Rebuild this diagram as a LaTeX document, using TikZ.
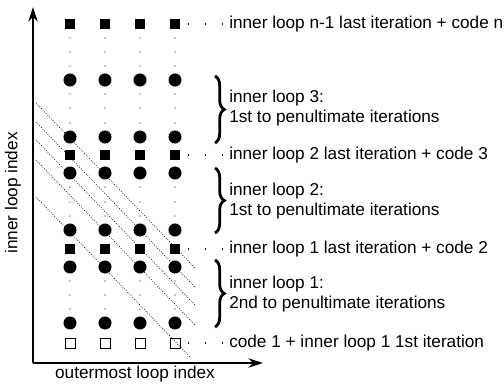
\documentclass[tikz,border=0pt]{standalone}
\usepackage{fontspec}
\setmainfont{Liberation Sans}
\usetikzlibrary{arrows.meta,decorations.pathreplacing}

\tikzset{
  axis/.style={line width=1pt,-{Stealth[length=11pt,width=7pt]}},
  fullsq/.style={fill=black,minimum size=8pt,inner sep=0},
  opensq/.style={draw,line width=0.6pt,minimum size=7.6pt,inner sep=0},
  iter/.style={circle,fill=black,minimum size=9.8pt,inner sep=0},
  gap/.style={circle,fill=black,minimum size=1pt,inner sep=0},
  lbl/.style={anchor=west,inner sep=0,align=left},
  leader/.style={line width=0.9pt,dash pattern=on 0.75pt off 12pt,dash phase=7pt},
  wave/.style={line width=0.5pt,dash pattern=on 0.6pt off 1.2pt},
  blockbrace/.style={decorate,decoration={brace,amplitude=7pt},line width=2.1pt}
}

\begin{document}
\begin{tikzpicture}[x=0.75pt,y=-0.75pt,font=\fontsize{12.9}{15}\selectfont]
    \useasboundingbox (0,0) rectangle (504,385);
    \coordinate (o) at (33,363);
    \coordinate (xtip) at (263,363);
    \coordinate (ytip) at (33,7);
    \draw[axis] (o) -- (xtip);
    \draw[axis] (o) -- (ytip);
    \node[rotate=90] (ylab) at (13,193) {inner loop index};
    \node (xlab) at (135,374) {outermost loop index};

    \foreach \c/\x in {1/70,2/105,3/140,4/175}{
      \node[fullsq] (sqn\c) at (\x,24) {};
      \node[fullsq] (sqb\c) at (\x,155) {};
      \node[fullsq] (sqa\c) at (\x,249) {};
      \node[opensq] (sqz\c) at (\x,343) {};
      \foreach \y in {80,137,173,230,267,323}
        \node[iter] (it\c-\y) at (\x,\y) {};
      \foreach \y in {38,52,66,94,108,123,187,202,216,281,295,309}
        \node[gap] (g\c-\y) at (\x,\y) {};
    }

    \draw[wave] (36,103) -- (195,268);
    \draw[wave] (36,122) -- (195,287);
    \draw[wave] (36,140) -- (195,305);
    \draw[wave] (36,160) -- (195,325);
    \draw[wave] (36,197) -- (190,357);

    \node[lbl] (labn) at (229,24) {inner loop n-1 last iteration + code n};
    \node[lbl] (lab3) at (229,108.5) {inner loop 3:\\1st to penultimate iterations};
    \node[lbl] (labb) at (229,155) {inner loop 2 last iteration + code 3};
    \node[lbl] (lab2) at (229,201.5) {inner loop 2:\\1st to penultimate iterations};
    \node[lbl] (laba) at (229,249) {inner loop 1 last iteration + code 2};
    \node[lbl] (lab1) at (229,294.5) {inner loop 1:\\2nd to penultimate iterations};
    \node[lbl] (labz) at (229,343) {code 1 + inner loop 1 1st iteration};

    \draw[leader] (sqn4.east) -- (labn.west);
    \draw[leader] (sqb4.east) -- (labb.west);
    \draw[leader] (sqa4.east) -- (laba.west);
    \draw[leader] (sqz4.east) -- (labz.west);

    \draw[blockbrace] (215,76) -- (215,143);
    \draw[blockbrace] (215,168) -- (215,233);
    \draw[blockbrace] (215,260) -- (215,327);
\end{tikzpicture}
\end{document}
